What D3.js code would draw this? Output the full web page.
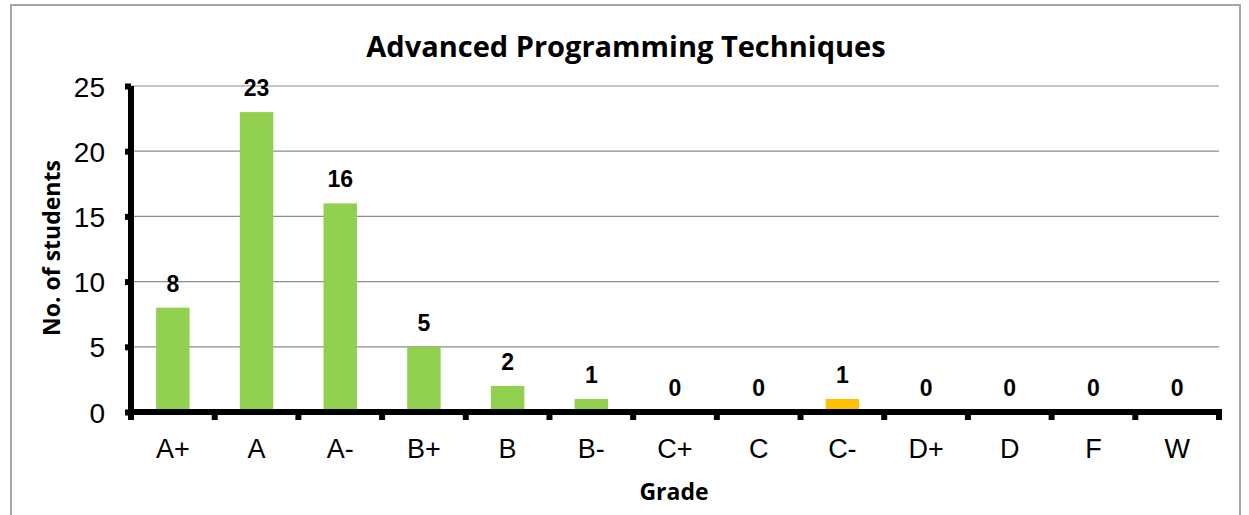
<!DOCTYPE html>
<html>
<head>
<meta charset="utf-8">
<script src="https://cdn.jsdelivr.net/npm/d3@7"></script>
<style>
  body { margin: 0; background: #fff; }
  svg { display: block; }
</style>
</head>
<body>
<div id="chart"></div>
<script>
// data
var grades = ['A+', 'A', 'A-', 'B+', 'B', 'B-', 'C+', 'C', 'C-', 'D+', 'D', 'F', 'W'];
var students = [8, 23, 16, 5, 2, 1, 0, 0, 1, 0, 0, 0, 0];
var yTicks = [0, 5, 10, 15, 20, 25];
var barColors = ['#92D050', '#92D050', '#92D050', '#92D050', '#92D050', '#92D050',
                 '#92D050', '#92D050', '#FFC000', '#92D050', '#92D050', '#92D050', '#92D050'];

var W = 1249, H = 515;
var margin = {top: 86, right: 30, bottom: 103, left: 131},
    width = 1219 - margin.left,
    height = 412 - margin.top;

var svg = d3.select("#chart")
  .append("svg")
    .attr("width", W)
    .attr("height", H);

// outer frame
svg.append("rect")
  .attr("x", 11).attr("y", 5)
  .attr("width", 1229).attr("height", 530)
  .attr("fill", "none")
  .attr("stroke", "#a6a6a6")
  .attr("stroke-width", 2);

svg.append("text")
  .text("Advanced Programming Techniques")
  .attr("x", 626).attr("y", 57)
  .attr("text-anchor", "middle")
  .style("font-family", "'Open Sans', sans-serif")
  .style("font-weight", "bold")
  .style("font-size", "29px");

var g = svg.append("g")
  .attr("transform", "translate(" + margin.left + "," + margin.top + ")");

var x = d3.scaleBand()
  .domain(grades)
  .range([0, width])
  .paddingInner(0.6)
  .paddingOuter(0.3);

var y = d3.scaleLinear()
  .domain([0, 25])
  .range([height, 0]);

// gridlines
g.selectAll(".grid")
  .data(yTicks.slice(1))
  .enter().append("line")
    .attr("class", "grid")
    .attr("x1", 0).attr("x2", width)
    .attr("y1", d => y(d)).attr("y2", d => y(d))
    .attr("stroke", "#8c8c8c")
    .attr("stroke-width", 1.2);

// bars
g.selectAll(".bar")
  .data(grades)
  .enter().append("rect")
    .attr("class", "bar")
    .attr("x", d => x(d))
    .attr("width", x.bandwidth())
    .attr("y", (d, i) => y(students[i]))
    .attr("height", (d, i) => height - y(students[i]))
    .attr("fill", (d, i) => barColors[i]);

// value labels
g.selectAll(".val")
  .data(grades)
  .enter().append("text")
    .attr("class", "val")
    .text((d, i) => students[i])
    .attr("x", d => x(d) + x.bandwidth() / 2)
    .attr("y", (d, i) => y(students[i]) - 16)
    .attr("text-anchor", "middle")
    .style("font-family", "'Liberation Sans', Arial, sans-serif")
    .style("font-weight", "bold")
    .style("font-size", "23px");

// y axis
var yAxis = d3.axisLeft(y)
  .tickValues(yTicks)
  .tickSize(6)
  .tickPadding(20);

var yg = g.append("g").call(yAxis);
yg.select(".domain").attr("stroke-width", 6).attr("d", "M0," + y(25) + "V" + (height + 3));
yg.selectAll(".tick line").attr("stroke-width", 6);
yg.selectAll("text")
  .style("font-family", "'Liberation Sans', Arial, sans-serif")
  .style("font-size", "28px")
  .attr("dy", "0.36em");

// x axis
var tickPos = d3.range(grades.length + 1).map(i => i * width / grades.length);
var xg = g.append("g").attr("transform", "translate(0," + height + ")");
xg.append("line")
  .attr("x1", -3).attr("x2", width + 3)
  .attr("y1", 0).attr("y2", 0)
  .attr("stroke", "#000")
  .attr("stroke-width", 6);
xg.selectAll(".xtick")
  .data(tickPos)
  .enter().append("line")
    .attr("class", "xtick")
    .attr("x1", d => d).attr("x2", d => d)
    .attr("y1", 0).attr("y2", 8)
    .attr("stroke", "#000")
    .attr("stroke-width", 6);
xg.selectAll(".xlab")
  .data(grades)
  .enter().append("text")
    .attr("class", "xlab")
    .text(d => d)
    .attr("x", d => x(d) + x.bandwidth() / 2)
    .attr("y", 46)
    .attr("text-anchor", "middle")
    .style("font-family", "'Liberation Sans', Arial, sans-serif")
    .style("font-size", "27px");

// axis titles
svg.append("text")
  .text("Grade")
  .attr("x", 674).attr("y", 500)
  .attr("text-anchor", "middle")
  .style("font-family", "'Open Sans', sans-serif")
  .style("font-weight", "bold")
  .style("font-size", "23px");

svg.append("text")
  .text("No. of students")
  .attr("transform", "translate(60,248) rotate(-90)")
  .attr("text-anchor", "middle")
  .style("font-family", "'Open Sans', sans-serif")
  .style("font-weight", "bold")
  .style("font-size", "23px");
</script>
</body>
</html>
